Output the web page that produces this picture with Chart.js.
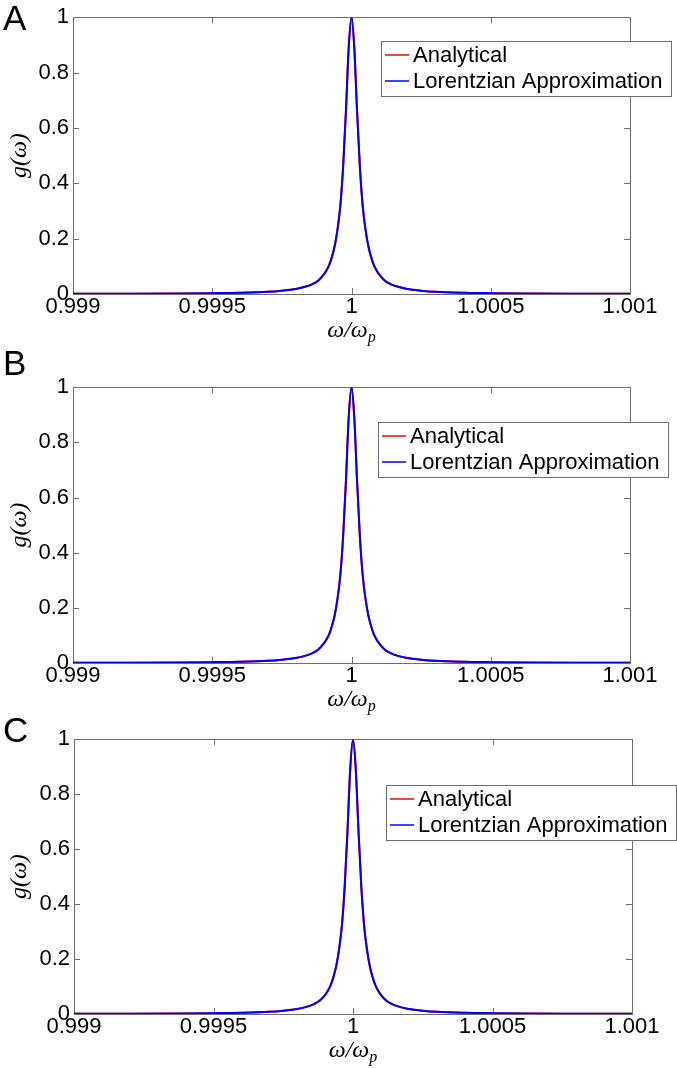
<!DOCTYPE html>
<html>
<head>
<meta charset="utf-8">
<script src="https://cdn.jsdelivr.net/npm/chart.js@4.4.1/dist/chart.umd.min.js"></script>
<style>
  body { margin: 0; background: #fff; }
  #wrap { position: relative; width: 677px; height: 1068px; overflow: hidden; }
  canvas { position: absolute; left: 0; }
  .letter { position: absolute; left: 3px; font: 35px 'Liberation Sans', Arial, sans-serif; line-height: 1; }
</style>
</head>
<body>
<div id="wrap">
  <canvas id="chartA" width="677" height="346" style="top:0px"></canvas>
  <canvas id="chartB" width="677" height="346" style="top:370px"></canvas>
  <canvas id="chartC" width="677" height="346" style="top:722px"></canvas>
  <div class="letter" style="top:0px">A</div>
  <div class="letter" style="top:345px">B</div>
  <div class="letter" style="top:712px">C</div>
</div>
<script>
// omega / omega_p
var omega = [0.999, 0.9992, 0.9994, 0.9995, 0.9996, 0.9997, 0.99975, 0.9998, 0.99983, 0.99986, 0.99988,
    0.9999, 0.99991, 0.99992, 0.99993, 0.99994, 0.99995, 0.99996, 0.99997, 0.99998, 0.99999, 1,
    1.00001, 1.00002, 1.00003, 1.00004, 1.00005, 1.00006, 1.00007, 1.00008, 1.00009, 1.0001,
    1.00012, 1.00014, 1.00017, 1.0002, 1.00025, 1.0003, 1.0004, 1.0005, 1.0006, 1.0008, 1.001];

// g(omega)
var gA = [0.0007, 0.0011, 0.002, 0.003, 0.0045, 0.008, 0.012, 0.018, 0.025, 0.036, 0.048,
    0.07, 0.085, 0.105, 0.135, 0.175, 0.235, 0.32, 0.46, 0.66, 0.89, 1.0,
    0.89, 0.66, 0.46, 0.32, 0.235, 0.175, 0.135, 0.105, 0.085, 0.07,
    0.048, 0.036, 0.025, 0.018, 0.012, 0.008, 0.0045, 0.003, 0.002, 0.0011, 0.0007];
var gB = [0.0007, 0.0011, 0.002, 0.003, 0.0045, 0.008, 0.012, 0.018, 0.025, 0.036, 0.048,
    0.07, 0.085, 0.105, 0.135, 0.175, 0.235, 0.32, 0.46, 0.66, 0.89, 1.0,
    0.89, 0.66, 0.46, 0.32, 0.235, 0.175, 0.135, 0.105, 0.085, 0.07,
    0.048, 0.036, 0.025, 0.018, 0.012, 0.008, 0.0045, 0.003, 0.002, 0.0011, 0.0007];
var gC = [0.0007, 0.0011, 0.002, 0.003, 0.0045, 0.008, 0.012, 0.018, 0.025, 0.036, 0.048,
    0.07, 0.085, 0.105, 0.135, 0.175, 0.235, 0.32, 0.46, 0.66, 0.89, 1.0,
    0.89, 0.66, 0.46, 0.32, 0.235, 0.175, 0.135, 0.105, 0.085, 0.07,
    0.048, 0.036, 0.025, 0.018, 0.012, 0.008, 0.0045, 0.003, 0.002, 0.0011, 0.0007];

var xTicks = [0.999, 0.9995, 1, 1.0005, 1.001];
var yTicks = [0, 0.2, 0.4, 0.6, 0.8, 1];
var seriesNames = ["Analytical", "Lorentzian Approximation"];

var sans = "'Liberation Sans', Arial, sans-serif";
var serif = "'Liberation Serif', 'Times New Roman', serif";
var boxColor = "#6e6e6e";

// MATLAB style box with inward ticks
var frame = {
    id: 'frame',
    beforeDatasetsDraw: function (chart) {
        var ctx = chart.ctx, a = chart.chartArea, x = chart.scales.x, y = chart.scales.y;
        ctx.save();
        ctx.strokeStyle = boxColor;
        ctx.lineWidth = 1;
        ctx.strokeRect(Math.round(a.left) + 0.5, Math.round(a.top) + 0.5,
            Math.round(a.right - a.left), Math.round(a.bottom - a.top));
        ctx.beginPath();
        y.ticks.forEach(function (t) {
            var py = Math.round(y.getPixelForValue(t.value)) + 0.5;
            ctx.moveTo(a.left, py); ctx.lineTo(a.left + 6, py);
            ctx.moveTo(a.right, py); ctx.lineTo(a.right - 6, py);
        });
        x.ticks.forEach(function (t) {
            var px = Math.round(x.getPixelForValue(t.value)) + 0.5;
            ctx.moveTo(px, a.bottom); ctx.lineTo(px, a.bottom - 6);
            ctx.moveTo(px, a.top); ctx.lineTo(px, a.top + 6);
        });
        ctx.stroke();
        ctx.restore();
    },
    afterDraw: function (chart) {
        // x axis label omega/omega_p with a real subscript
        var ctx = chart.ctx, a = chart.chartArea;
        ctx.save();
        ctx.fillStyle = '#000';
        ctx.textBaseline = 'alphabetic';
        ctx.font = "italic 24px " + serif;
        var main = "\u03c9/\u03c9";
        var w1 = ctx.measureText(main).width;
        ctx.font = "italic 16px " + serif;
        var w2 = ctx.measureText("p").width;
        var x0 = (a.left + a.right) / 2 - (w1 + w2) / 2;
        var base = a.bottom + 43;
        ctx.font = "italic 24px " + serif;
        ctx.fillText(main, x0, base);
        ctx.font = "italic 16px " + serif;
        ctx.fillText("p", x0 + w1, base + 5);
        ctx.restore();
    }
};

var boxLegend = {
    id: 'boxLegend',
    afterDraw: function (chart, args, opts) {
        var ctx = chart.ctx, a = chart.chartArea;
        var bx = Math.round(a.left + opts.dx), by = Math.round(a.top + opts.dy), bw = 290, bh = 55;
        ctx.save();
        ctx.fillStyle = '#fff';
        ctx.fillRect(bx, by, bw, bh);
        ctx.strokeStyle = boxColor;
        ctx.lineWidth = 1;
        ctx.strokeRect(bx + 0.5, by + 0.5, bw, bh);
        ctx.font = "22px " + sans;
        ctx.textBaseline = 'middle';
        chart.data.datasets.forEach(function (ds, i) {
            var cy = by + 14 + i * 26;
            ctx.strokeStyle = ds.borderColor;
            ctx.lineWidth = 1.5;
            ctx.beginPath();
            ctx.moveTo(bx + 4, cy);
            ctx.lineTo(bx + 28, cy);
            ctx.stroke();
            ctx.fillStyle = '#000';
            ctx.fillText(ds.label, bx + 32, cy + 1);
        });
        ctx.restore();
    }
};

function points(vals) {
    return omega.map(function (w, i) { return { x: w, y: vals[i] }; });
}

function makePanel(id, vals, box) {
    return new Chart(document.getElementById(id), {
        type: 'line',
        data: {
            datasets: [{
                label: seriesNames[0],
                data: points(vals),
                borderColor: '#ff0000',
                borderWidth: 2,
                pointRadius: 0,
                cubicInterpolationMode: 'monotone',
                order: 1
            }, {
                label: seriesNames[1],
                data: points(vals),
                borderColor: '#0000ff',
                borderWidth: 2,
                pointRadius: 0,
                cubicInterpolationMode: 'monotone',
                order: 0
            }]
        },
        options: {
            responsive: false,
            animation: false,
            layout: { padding: { left: 0, right: box.right, top: 15, bottom: 0 } },
            plugins: {
                legend: { display: false },
                tooltip: { enabled: false },
                boxLegend: { dx: box.dx, dy: box.dy }
            },
            scales: {
                x: {
                    type: 'linear',
                    min: 0.999,
                    max: 1.001,
                    afterBuildTicks: function (s) { s.ticks = xTicks.map(function (v) { return { value: v }; }); },
                    afterFit: function (s) { s.height = box.xh; },
                    grid: { display: false, drawTicks: false },
                    border: { display: false },
                    ticks: {
                        padding: 0,
                        autoSkip: false,
                        maxRotation: 0,
                        color: '#000',
                        font: { family: sans, size: 22 },
                        callback: function (v) { return String(v); }
                    }
                },
                y: {
                    min: 0,
                    max: 1,
                    afterBuildTicks: function (s) { s.ticks = yTicks.map(function (v) { return { value: v }; }); },
                    afterFit: function (s) { s.width = box.yw; },
                    grid: { display: false, drawTicks: false },
                    border: { display: false },
                    ticks: {
                        padding: 4,
                        color: '#000',
                        font: { family: sans, size: 22 },
                        callback: function (v) { return String(v); }
                    },
                    title: {
                        display: true,
                        text: 'g(\u03c9)',
                        color: '#000',
                        padding: { top: 5, bottom: 0 },
                        font: { family: serif, size: 24, style: 'italic' }
                    }
                }
            }
        },
        plugins: [frame, boxLegend]
    });
}

makePanel('chartA', gA, { right: 47, yw: 73, xh: 52, dx: 308, dy: 24 });
makePanel('chartB', gB, { right: 47, yw: 73, xh: 53, dx: 305, dy: 35 });
makePanel('chartC', gC, { right: 45, yw: 74, xh: 54, dx: 312, dy: 46 });
</script>
</body>
</html>
